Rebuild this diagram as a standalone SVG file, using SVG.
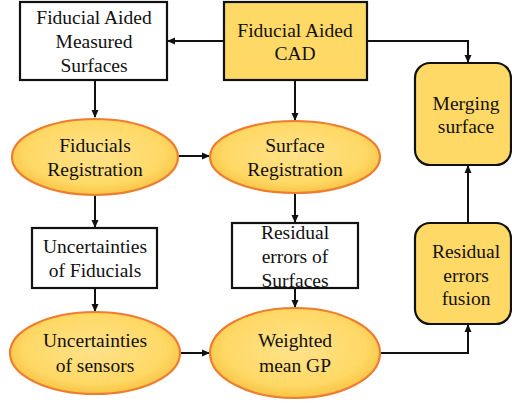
<svg xmlns="http://www.w3.org/2000/svg" width="512" height="403" viewBox="0 0 512 403">
<defs>
<radialGradient id="eg" cx="50%" cy="45%" r="55%">
<stop offset="0" stop-color="#FFE28A"/>
<stop offset="0.75" stop-color="#FFD966"/>
<stop offset="1" stop-color="#F7C444"/>
</radialGradient>
<marker id="ah" markerWidth="8" markerHeight="8" refX="7" refY="4" orient="auto" markerUnits="userSpaceOnUse">
<path d="M0,0.5 L8,4 L0,7.5 Z" fill="#111"/>
</marker>
</defs>
<g id="connectors" fill="none" stroke="#111" stroke-width="2" marker-end="url(#ah)">
<path d="M224,41 H168"/>
<path d="M367,41 H468 V62"/>
<path d="M95,80 V117"/>
<path d="M295,80 V120"/>
<path d="M178,156 H209"/>
<path d="M95,195 V227"/>
<path d="M295,193 V222"/>
<path d="M95,288 V311"/>
<path d="M295,288 V307"/>
<path d="M180,353 H209"/>
<path d="M380,353 H468 V325"/>
<path d="M468,223 V166"/>
</g>
<g id="nodes" font-family="Liberation Serif" font-size="19.5" fill="#111" text-anchor="middle">
<g id="measured">
<rect x="20" y="2" width="147" height="78" fill="#fff" stroke="#111" stroke-width="2.2"/>
<text x="94" y="24">Fiducial Aided</text>
<text x="94" y="48">Measured</text>
<text x="94" y="72">Surfaces</text>
</g>
<g id="cad">
<rect x="224" y="2" width="143" height="78" fill="#FFD966" stroke="#111" stroke-width="2.2"/>
<text x="295" y="37">Fiducial Aided</text>
<text x="295" y="60">CAD</text>
</g>
<g id="merging">
<rect x="415" y="63" width="96" height="102" rx="15" fill="#FFD966" stroke="#111" stroke-width="2.2"/>
<text x="466" y="110">Merging</text>
<text x="466" y="133">surface</text>
</g>
<g id="fidreg">
<ellipse cx="95" cy="157" rx="83" ry="38" fill="url(#eg)" stroke="#ED7D31" stroke-width="2.2"/>
<text x="95" y="152">Fiducials</text>
<text x="95" y="176">Registration</text>
</g>
<g id="surfreg">
<ellipse cx="295" cy="157" rx="85" ry="36" fill="url(#eg)" stroke="#ED7D31" stroke-width="2.2"/>
<text x="295" y="152">Surface</text>
<text x="295" y="176">Registration</text>
</g>
<g id="uncfid">
<rect x="32" y="228" width="125" height="60" fill="#fff" stroke="#111" stroke-width="2.2"/>
<text x="95" y="253">Uncertainties</text>
<text x="95" y="277">of Fiducials</text>
</g>
<g id="ressurf">
<rect x="232" y="223" width="126" height="65" fill="#fff" stroke="#111" stroke-width="2.2"/>
<text x="295" y="239">Residual</text>
<text x="295" y="263">errors of</text>
<text x="295" y="287">Surfaces</text>
</g>
<g id="resfusion">
<rect x="415" y="223" width="96" height="101" rx="15" fill="#FFD966" stroke="#111" stroke-width="2.2"/>
<text x="466" y="258">Residual</text>
<text x="466" y="282">errors</text>
<text x="466" y="305">fusion</text>
</g>
<g id="uncsens">
<ellipse cx="95" cy="353" rx="85" ry="41" fill="url(#eg)" stroke="#ED7D31" stroke-width="2.2"/>
<text x="95" y="347">Uncertainties</text>
<text x="95" y="372">of sensors</text>
</g>
<g id="weighted">
<ellipse cx="295" cy="353" rx="85" ry="45" fill="url(#eg)" stroke="#ED7D31" stroke-width="2.2"/>
<text x="295" y="347">Weighted</text>
<text x="295" y="372">mean GP</text>
</g>
</g>
</svg>
